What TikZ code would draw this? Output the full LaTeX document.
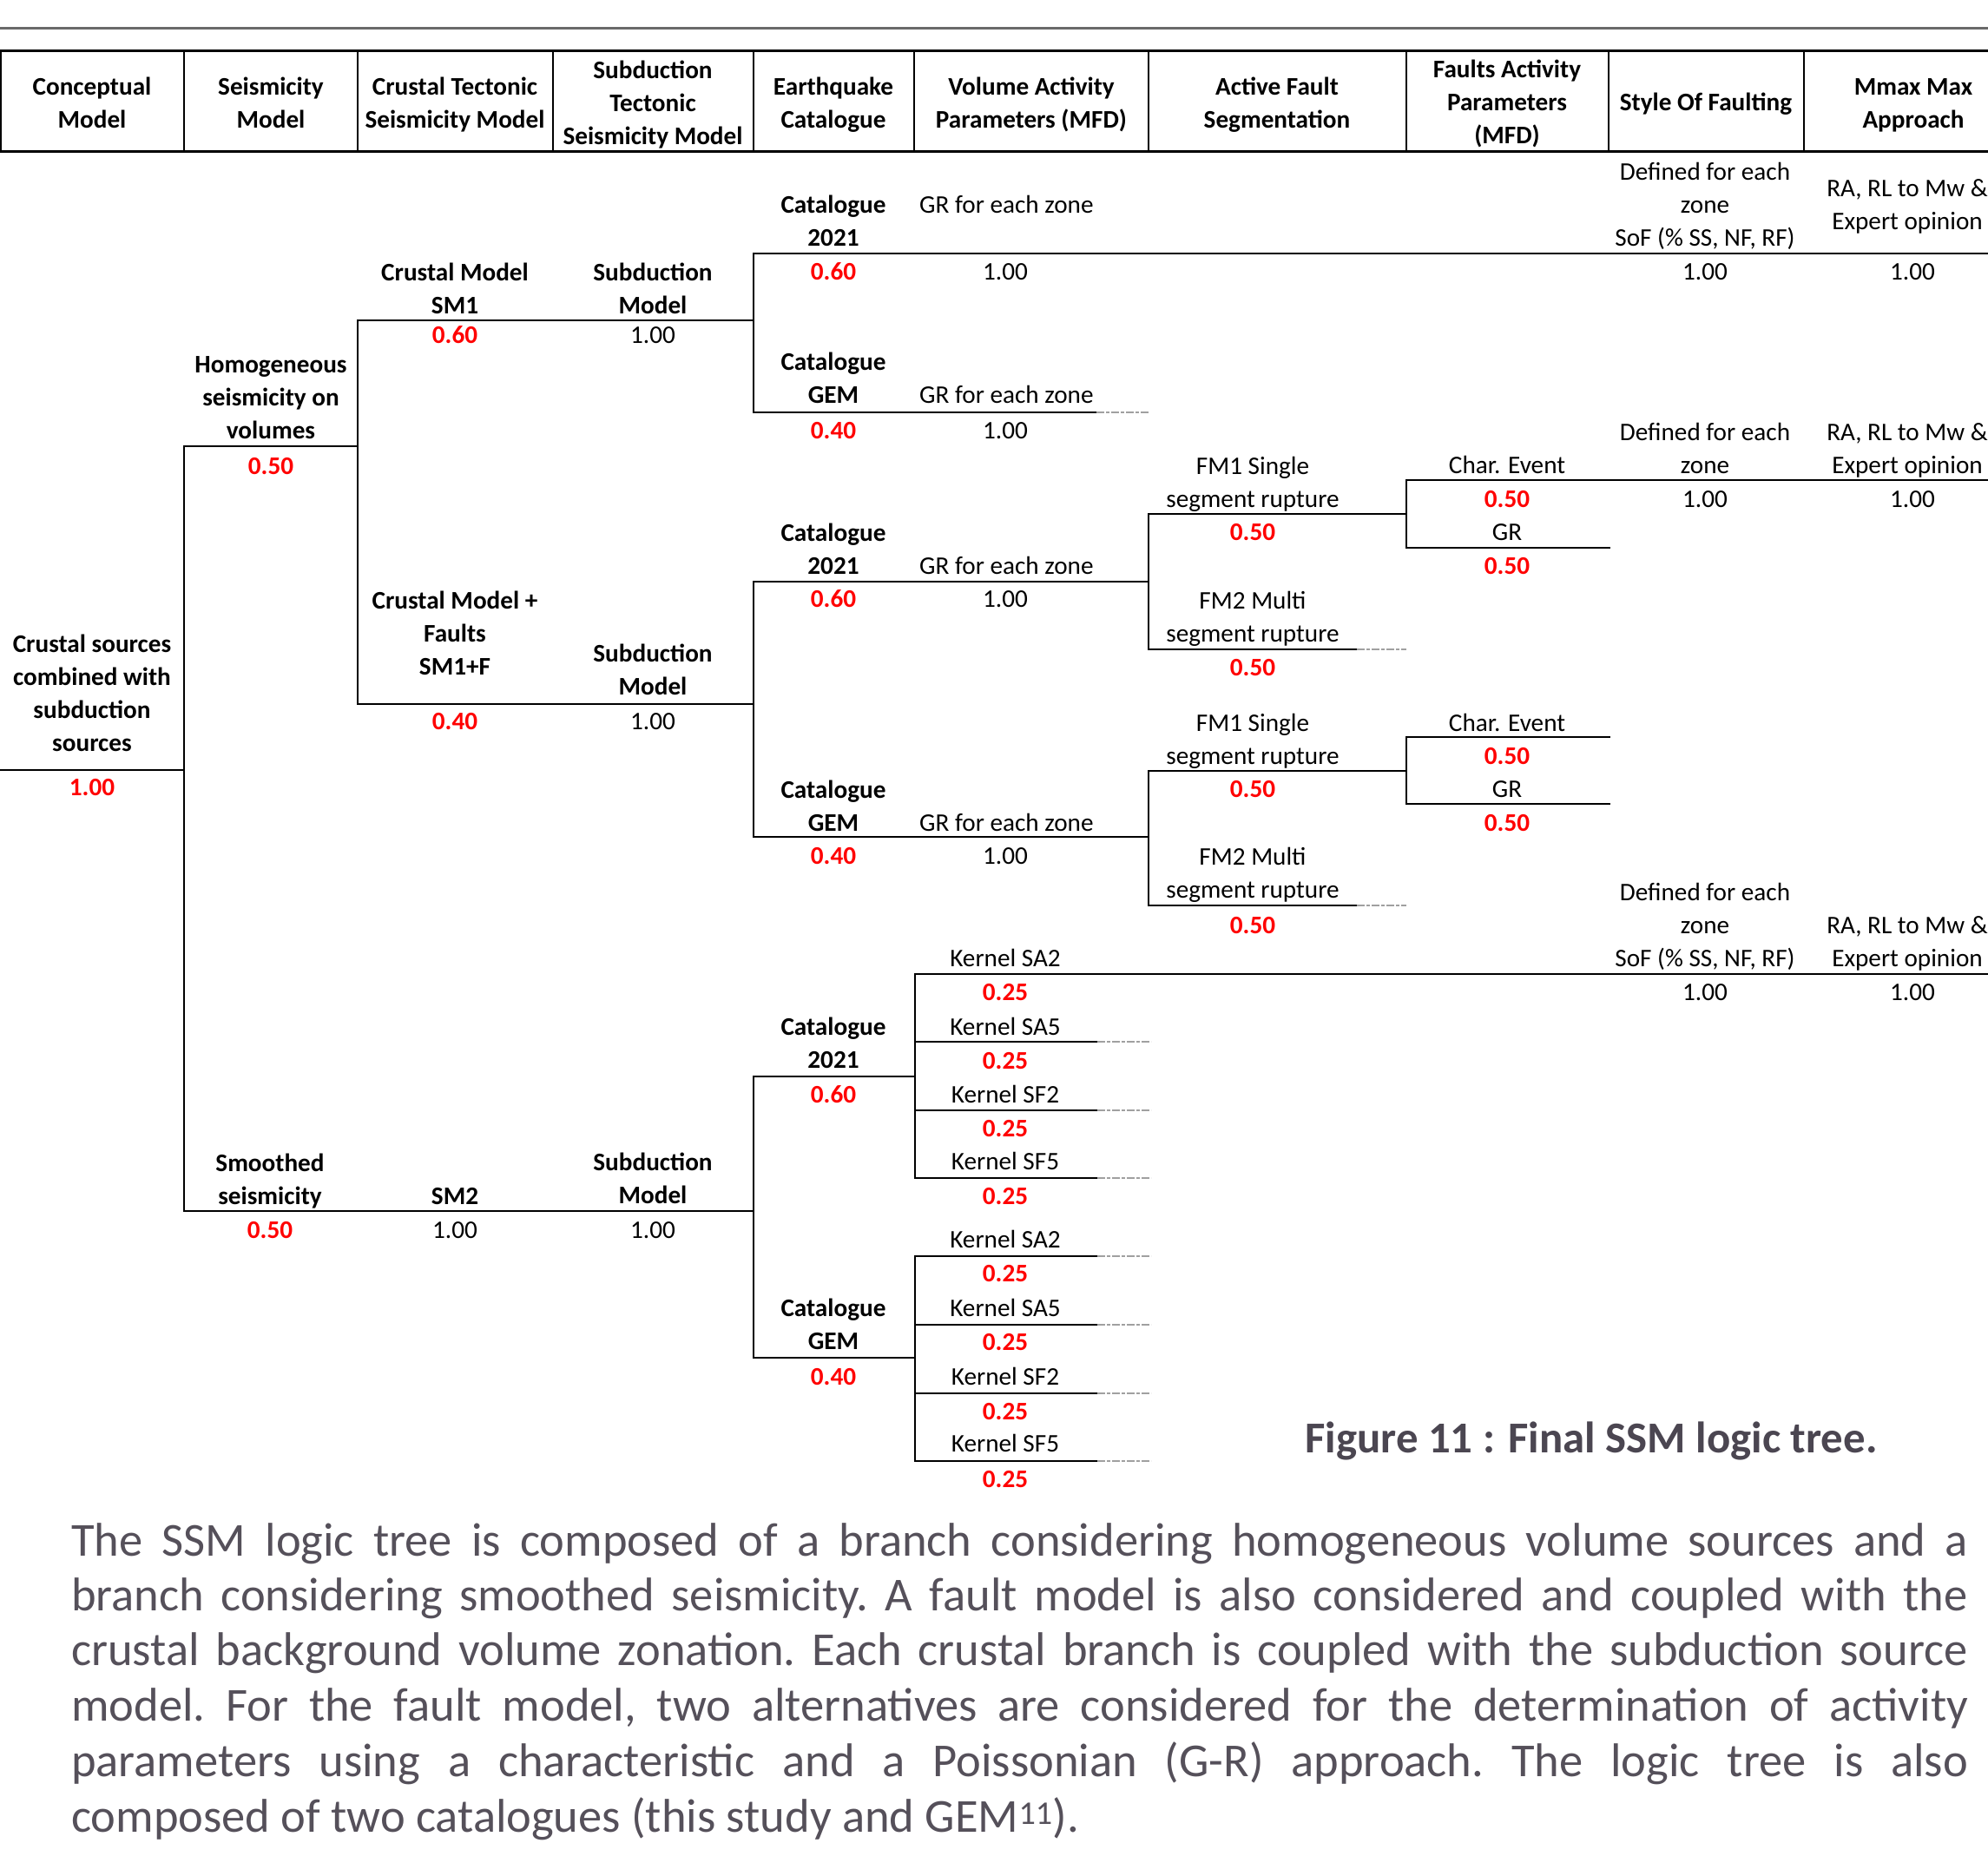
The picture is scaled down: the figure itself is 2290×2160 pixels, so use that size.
\documentclass[tikz,border=0pt]{standalone}
\usepackage{fontspec}
\setmainfont{Carlito}
\definecolor{bodytxt}{HTML}{55505A}
\definecolor{captxt}{HTML}{4B4651}
\definecolor{rulegray}{HTML}{6A6A6A}
\definecolor{dashgray}{HTML}{A0A0A0}
\definecolor{pred}{HTML}{FF0000}
\newcommand\tf{\fontsize{29.2}{38}\selectfont}
\newcommand\ml[1]{\begin{tabular}[b]{@{}c@{}}#1\end{tabular}}
\newcommand\jl[1]{\hbox to 2185pt{\frenchspacing\spaceskip=0.23em plus 1em minus 0.06em\relax #1}}
\newcommand\brH[4]{\coordinate (#1a) at (#3,#2); \coordinate (#1b) at (#4,#2); \draw[hz] (#1a) -- (#1b);}
\newcommand\brD[5]{\coordinate (#1a) at (#3,#2); \coordinate (#1m) at (#4,#2); \coordinate (#1b) at (#5,#2); \draw[hz] (#1a) -- (#1m); \draw[dsh] (#1m) -- (#1b);}
\newcommand\brV[4]{\coordinate (#1a) at (#2,#3); \coordinate (#1b) at (#2,#4); \draw[vt] (#1a) -- (#1b);}
\begin{document}
\begin{tikzpicture}[x=1pt,y=-1pt,
  lab/.style={inner sep=0pt,anchor=base,font=\tf},
  lw/.style={lab,anchor=base west},
  bl/.style={lab,font=\tf\bfseries},
  pr/.style={lab,font=\tf\bfseries,text=pred},
  hz/.style={line width=2.4pt,line cap=rect},
  vt/.style={line width=1.8pt,line cap=rect},
  dsh/.style={line width=2.4pt,dashgray,dash pattern=on 9pt off 2pt on 4pt off 2pt},
  hdr/.style={line width=3pt},
  hdv/.style={line width=1.8pt},
  body/.style={inner sep=0pt,anchor=base west,text=bodytxt,font=\fontsize{54.5}{64}\selectfont\frenchspacing}]
\useasboundingbox (0,0) rectangle (2290,2160);
% top rule
\coordinate (r0) at (0,32); \coordinate (r1) at (2290,32);
\draw[rulegray,line width=3pt] (r0) -- (r1);
% header table
\coordinate (ht0) at (0,58); \coordinate (ht1) at (2290,58);
\coordinate (hb0) at (0,174); \coordinate (hb1) at (2290,174);
\draw[hdr] (ht0) -- (ht1); \draw[hdr] (hb0) -- (hb1);
\foreach \xx [count=\i] in {1,212,412,637,868,1053,1323,1620,1853,2078}{
  \coordinate (hv\i a) at (\xx,58); \coordinate (hv\i b) at (\xx,174);
  \draw[hdv] (hv\i a) -- (hv\i b);}
\node[bl] (h1) at (106,147) {\ml{Conceptual\\Model}};
\node[bl] (h2) at (312,147) {\ml{Seismicity\\Model}};
\node[bl] (h3) at (524,147) {\ml{Crustal Tectonic\\Seismicity Model}};
\node[bl] (h4) at (752,166) {\ml{Subduction\\Tectonic\\Seismicity Model}};
\node[bl] (h5) at (960,147) {\ml{Earthquake\\Catalogue}};
\node[bl] (h6) at (1188,147) {\ml{Volume Activity\\Parameters (MFD)}};
\node[bl] (h7) at (1471,147) {\ml{Active Fault\\Segmentation}};
\node[bl] (h8) at (1736,165) {\ml{Faults Activity\\Parameters\\(MFD)}};
\node[bl] (h9) at (1965,127) {Style Of Faulting};
\node[bl] (h10) at (2204,147) {\ml{Mmax Max\\Approach}};
% ---------- tree lines
\brH{L1}{887}{0}{212}
\brV{V1}{212}{514}{1395}
\brH{L2}{514}{212}{412}
\brH{L3}{1395}{212}{868}
\brV{V2}{412}{369}{811}
\brH{L4}{369}{412}{868}
\brH{L5}{811}{412}{868}
\brV{V3}{868}{292}{475}
\brV{V4}{868}{670}{964}
\brV{V5}{868}{1240}{1564}
\brH{L6}{292}{868}{2290}
\brD{L7}{475}{868}{1263}{1324}
\brH{L8}{670}{868}{1323}
\brH{L9}{964}{868}{1323}
\brH{L10}{1240}{868}{1054}
\brH{L11}{1564}{868}{1054}
\brV{V6}{1323}{592}{748}
\brV{V7}{1323}{888}{1043}
\brH{L12}{592}{1323}{1620}
\brD{L13}{748}{1323}{1563}{1620}
\brH{L14}{888}{1323}{1620}
\brD{L15}{1043}{1323}{1563}{1620}
\brV{V8}{1620}{553}{631}
\brV{V9}{1620}{849}{926}
\brH{L16}{553}{1620}{2290}
\brH{L17}{631}{1620}{1854}
\brH{L18}{849}{1620}{1854}
\brH{L19}{926}{1620}{1854}
\brV{V10}{1054}{1122}{1357}
\brV{V11}{1054}{1447}{1683}
\brH{L20}{1122}{1054}{2290}
\brD{L21}{1200}{1054}{1264}{1326}
\brD{L22}{1279}{1054}{1264}{1326}
\brD{L23}{1357}{1054}{1264}{1326}
\brD{L24}{1447}{1054}{1264}{1326}
\brD{L25}{1526}{1054}{1264}{1326}
\brD{L26}{1605}{1054}{1264}{1326}
\brD{L27}{1683}{1054}{1264}{1326}
% ---------- labels
% group L=292
\node[bl] (t1) at (960,283) {\ml{Catalogue\\2021}};
\node[lw] (t2) at (1059,245) {GR for each zone};
\node[pr] (t3) at (960,322) {0.60};
\node[lab] (t4) at (1158,322) {1.00};
\node[lab] (t5) at (1964,283) {\ml{Defined for each\\zone\\SoF (\% SS, NF, RF)}};
\node[lab] (t6) at (1964,322) {1.00};
\node[lab] (t7) at (2197,264) {\ml{RA, RL to Mw \&\\Expert opinion}};
\node[lab] (t8) at (2203,322) {1.00};
% group L=369
\node[bl] (t9) at (524,361) {\ml{Crustal Model\\SM1}};
\node[bl] (t10) at (752,361) {\ml{Subduction\\Model}};
\node[pr] (t11) at (524,395) {0.60};
\node[lab] (t12) at (752,395) {1.00};
% group L=475
\node[bl] (t13) at (960,464) {\ml{Catalogue\\GEM}};
\node[lw] (t14) at (1059,464) {GR for each zone};
\node[pr] (t15) at (960,505) {0.40};
\node[lab] (t16) at (1158,505) {1.00};
% group L=514
\node[bl] (t17) at (312,505) {\ml{Homogeneous\\seismicity on\\volumes}};
\node[pr] (t18) at (312,546) {0.50};
% group L=553
\node[lab] (t19) at (1736,545) {Char. Event};
\node[lab] (t20) at (1964,545) {\ml{Defined for each\\zone}};
\node[lab] (t21) at (2197,545) {\ml{RA, RL to Mw \&\\Expert opinion}};
\node[pr] (t22) at (1736,584) {0.50};
\node[lab] (t23) at (1964,584) {1.00};
\node[lab] (t24) at (2203,584) {1.00};
% group L=592
\node[lab] (t25) at (1443,584) {\ml{FM1 Single\\segment rupture}};
\node[pr] (t26) at (1443,622) {0.50};
% group L=631
\node[lab] (t27) at (1736,622) {GR};
\node[pr] (t28) at (1736,661) {0.50};
% group L=670
\node[bl] (t29) at (960,661) {\ml{Catalogue\\2021}};
\node[lw] (t30) at (1059,661) {GR for each zone};
\node[pr] (t31) at (960,699) {0.60};
\node[lab] (t32) at (1158,699) {1.00};
% group L=748
\node[lab] (t33) at (1443,739) {\ml{FM2 Multi\\segment rupture}};
\node[pr] (t34) at (1443,778) {0.50};
% group L=811
\node[bl] (t35) at (524,777) {\ml{Crustal Model +\\Faults\\SM1+F}};
\node[bl] (t36) at (752,800) {\ml{Subduction\\Model}};
\node[pr] (t37) at (524,840) {0.40};
\node[lab] (t38) at (752,840) {1.00};
% group L=887
\node[bl] (t39) at (106,865) {\ml{Crustal sources\\combined with\\subduction\\sources}};
\node[pr] (t40) at (106,916) {1.00};
% group L=849
\node[lab] (t41) at (1736,842) {Char. Event};
\node[pr] (t42) at (1736,880) {0.50};
% group L=888
\node[lab] (t43) at (1443,880) {\ml{FM1 Single\\segment rupture}};
\node[pr] (t44) at (1443,918) {0.50};
% group L=926
\node[lab] (t45) at (1736,918) {GR};
\node[pr] (t46) at (1736,957) {0.50};
% group L=964
\node[bl] (t47) at (960,957) {\ml{Catalogue\\GEM}};
\node[lw] (t48) at (1059,957) {GR for each zone};
\node[pr] (t49) at (960,995) {0.40};
\node[lab] (t50) at (1158,995) {1.00};
% group L=1043
\node[lab] (t51) at (1443,1034) {\ml{FM2 Multi\\segment rupture}};
\node[pr] (t52) at (1443,1075) {0.50};
% group L=1122
\node[lab] (t53) at (1158,1113) {Kernel SA2};
\node[lab] (t54) at (1964,1113) {\ml{Defined for each\\zone\\SoF (\% SS, NF, RF)}};
\node[lab] (t55) at (2197,1113) {\ml{RA, RL to Mw \&\\Expert opinion}};
\node[pr] (t56) at (1158,1152) {0.25};
\node[lab] (t57) at (1964,1152) {1.00};
\node[lab] (t58) at (2203,1152) {1.00};
% group L=1200
\node[lab] (t59) at (1158,1192) {Kernel SA5};
\node[pr] (t60) at (1158,1231) {0.25};
% group L=1240
\node[bl] (t61) at (960,1230) {\ml{Catalogue\\2021}};
\node[pr] (t62) at (960,1270) {0.60};
% group L=1279
\node[lab] (t63) at (1158,1270) {Kernel SF2};
\node[pr] (t64) at (1158,1309) {0.25};
% group L=1357
\node[lab] (t65) at (1158,1347) {Kernel SF5};
\node[pr] (t66) at (1158,1387) {0.25};
% group L=1395
\node[bl] (t67) at (311,1387) {\ml{Smoothed\\seismicity}};
\node[bl] (t68) at (524,1387) {SM2};
\node[bl] (t69) at (752,1386) {\ml{Subduction\\Model}};
\node[pr] (t70) at (311,1426) {0.50};
\node[lab] (t71) at (524,1426) {1.00};
\node[lab] (t72) at (752,1426) {1.00};
% group L=1447
\node[lab] (t73) at (1158,1437) {Kernel SA2};
\node[pr] (t74) at (1158,1476) {0.25};
% group L=1526
\node[lab] (t75) at (1158,1516) {Kernel SA5};
\node[pr] (t76) at (1158,1555) {0.25};
% group L=1564
\node[bl] (t77) at (960,1554) {\ml{Catalogue\\GEM}};
\node[pr] (t78) at (960,1595) {0.40};
% group L=1605
\node[lab] (t79) at (1158,1595) {Kernel SF2};
\node[pr] (t80) at (1158,1635) {0.25};
% group L=1683
\node[lab] (t81) at (1158,1672) {Kernel SF5};
\node[pr] (t82) at (1158,1713) {0.25};
% caption
\node[inner sep=0pt,anchor=base,text=captxt,font=\fontsize{50.8}{60}\selectfont\bfseries] (cap) at (1833,1673) {Figure 11 : Final SSM logic tree.};
% paragraph
\node[body] (p1) at (82,1792) {\jl{The SSM logic tree is composed of a branch considering homogeneous volume sources and a}};
\node[body] (p2) at (82,1855) {\jl{branch considering smoothed seismicity. A fault model is also considered and coupled with the}};
\node[body] (p3) at (82,1918) {\jl{crustal background volume zonation. Each crustal branch is coupled with the subduction source}};
\node[body] (p4) at (82,1982) {\jl{model. For the fault model, two alternatives are considered for the determination of activity}};
\node[body] (p5) at (82,2046) {\jl{parameters using a characteristic and a Poissonian (G-R) approach. The logic tree is also}};
\node[body] (p6) at (82,2110) {composed of two catalogues (this study and GEM\textsuperscript{11}).};
\end{tikzpicture}
\end{document}
